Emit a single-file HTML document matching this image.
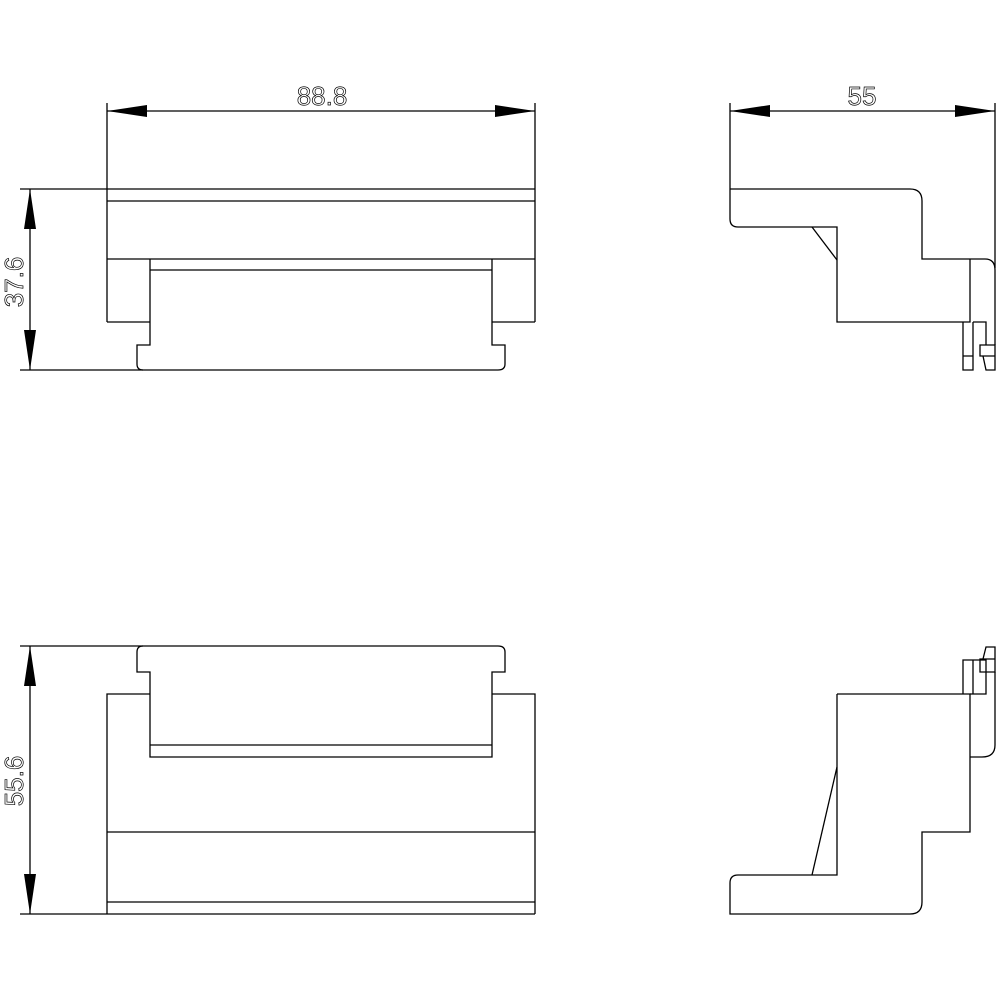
<!DOCTYPE html>
<html><head><meta charset="utf-8"><style>
html,body{margin:0;padding:0;background:#fff}
svg{display:block}
text{font-family:"Liberation Sans",sans-serif;font-size:26px;fill:#fff;stroke:#000;stroke-width:0.7}
</style></head><body>
<svg width="1000" height="1000" viewBox="0 0 1000 1000" xmlns="http://www.w3.org/2000/svg">
<g fill="none" stroke="#000" stroke-width="1.3">
<line x1="107" y1="103" x2="107" y2="322"/>
<line x1="535" y1="103" x2="535" y2="322"/>
<line x1="107" y1="111" x2="535" y2="111"/>
<line x1="20" y1="189" x2="535" y2="189"/>
<line x1="107" y1="201" x2="535" y2="201"/>
<line x1="107" y1="259" x2="535" y2="259"/>
<line x1="150" y1="270" x2="492" y2="270"/>
<line x1="107" y1="322" x2="150" y2="322"/>
<line x1="492" y1="322" x2="535" y2="322"/>
<line x1="30" y1="189" x2="30" y2="370"/>
<path d="M150 259 V345 H137 V364 Q137 370 143 370 H498 Q505 370 505 364 V345 H492 V259"/>
<line x1="20" y1="370" x2="143" y2="370"/>
<line x1="20" y1="646" x2="143" y2="646"/>
<line x1="20" y1="914" x2="535" y2="914"/>
<line x1="30" y1="646" x2="30" y2="914"/>
<path d="M107 914 V694 H150"/>
<path d="M535 914 V694 H492"/>
<path d="M150 757 V672 H137 V652 Q137 646 143 646 H498 Q505 646 505 652 V672 H492 V757 Z"/>
<line x1="150" y1="745" x2="492" y2="745"/>
<line x1="107" y1="832" x2="535" y2="832"/>
<line x1="107" y1="902" x2="535" y2="902"/>
<line x1="730" y1="103" x2="730" y2="189"/>
<line x1="995" y1="103" x2="995" y2="268"/>
<line x1="730" y1="111" x2="995" y2="111"/>
<path d="M730 189 H910 Q922 189 922 201 V259 H985 Q995 259 995 270 V345"/>
<path d="M730 189 V219 Q730 227 738 227 H837 V322 H970 V259"/>
<line x1="812" y1="227" x2="837" y2="260"/>
<path d="M963 322 V370 H973 V322 M973 322 H986 V345 M963 356 H973 M980 345 H995 V356 H980 Z M983 356 L986 370 H995 V356"/>
<path d="M837 694 H970 V832 H922 V902 Q922 914 910 914 H730 V883 Q730 875 738 875 H837 V694"/>
<line x1="812" y1="875" x2="837" y2="767"/>
<path d="M970 757 H982 Q995 757 995 745 V672"/>
<path d="M963 694 V660 H973 V694 M973 660 H986 V694 H970 M980 659 H995 V672 H980 Z M983 659 L986 647 H995 V659"/>
</g>
<g fill="#000" stroke="none">
<polygon points="107,111 147,105 147,117"/>
<polygon points="535,111 495,105 495,117"/>
<polygon points="730,111 770,105 770,117"/>
<polygon points="995,111 955,105 955,117"/>
<polygon points="30,189 24,229 36,229"/>
<polygon points="30,370 24,330 36,330"/>
<polygon points="30,646 24,686 36,686"/>
<polygon points="30,914 24,874 36,874"/>
</g>
<text x="322" y="105" text-anchor="middle">88.8</text>
<text x="862" y="105" text-anchor="middle">55</text>
<text transform="translate(23,282) rotate(-90)" text-anchor="middle">37.6</text>
<text transform="translate(23,781) rotate(-90)" text-anchor="middle">55.6</text>
</svg>
</body></html>
